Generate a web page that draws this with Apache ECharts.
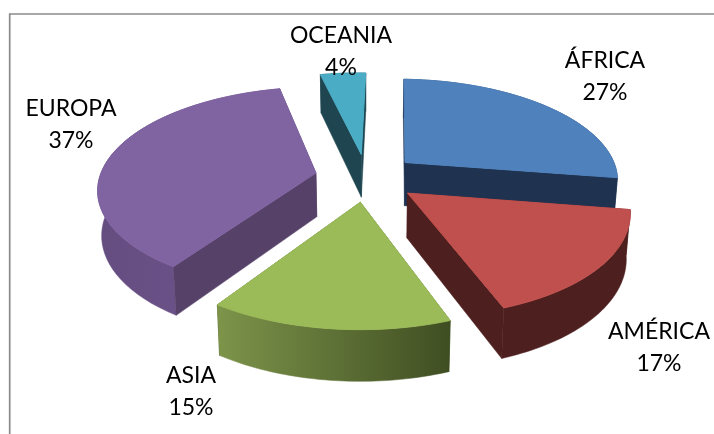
<!DOCTYPE html>
<html><head><meta charset="utf-8">
<style>html,body{margin:0;padding:0;background:#fff}#c{width:714px;height:434px}</style>
<script src="https://cdn.jsdelivr.net/npm/echarts@6/dist/echarts.min.js"></script>
</head><body><div id="c"></div>
<script>
const categories = ['ÁFRICA','AMÉRICA','ASIA','EUROPA','OCEANIA'];
const shares = [27,17,15,37,4];

// Look of each slice
const topColors  = ['#4f81bd','#c0504d','#9bbb59','#8064a2','#4bacc6'];
const wallColors = ['#1f3350','#4e1f1f','#3f4e22','#564168','#1f4650'];
const arcStops   = [['#1f3350','#1f3350'],['#4e1f1f','#4e1f1f'],['#7d944a','#3f4e22'],['#654d80','#6f5690'],['#1f4650','#1f4650']];
const paintOrder = [1,3,4,2,0]; // back to front rank of each slice
const labelAt = [[605,77],[659,348],[191,392],[71,125],[341,52]];

// Perspective view of the disc
const cx=366.5, cy=177.5, ax=215, by=100, skewX=4.5, skewY=3, persp=0.15, explode=0.24, depth=44, baseShrink=0.985;
function topPt(X,Y){const w=1+persp*Y;return [cx+(ax*X+skewX*Y)/w, cy+(skewY*X-by*Y)/w];}
function basePt(X,Y){const p=topPt(X,Y);return [cx+(p[0]-cx)*baseShrink, p[1]+depth/(1+0.12*Y)];}

const total=shares.reduce(function(a,b){return a+b;},0);
const startAngles=[];shares.reduce(function(a,v,i){startAngles[i]=a;return a+v/total*Math.PI*2;},0);

function renderItem(params,api){
  const i=params.dataIndex, v=api.value(0);
  const a0=startAngles[i], a1=a0+v/total*Math.PI*2, mid=(a0+a1)/2;
  const ox=explode*Math.sin(mid), oy=explode*Math.cos(mid);
  const n=48, arc=[];
  for(let k=0;k<=n;k++){const a=a0+(a1-a0)*k/n;arc.push([ox+Math.sin(a),oy+Math.cos(a)]);}
  const topArc=arc.map(function(p){return topPt(p[0],p[1]);});
  const baseArc=arc.map(function(p){return basePt(p[0],p[1]);});
  const A=topPt(ox,oy), B=basePt(ox,oy);
  const z=(paintOrder[i]+1)*10;
  const cmid=topPt(ox+0.5*Math.sin(mid),oy+0.5*Math.cos(mid));
  const side=function(P,Q,R){return (Q[0]-P[0])*(R[1]-P[1])-(Q[1]-P[1])*(R[0]-P[0]);};
  const walls=[[topArc[0],baseArc[0]],[topArc[n],baseArc[n]]];
  const kids=[];
  const wall=function(w,zz){return {type:'polygon',z2:zz,shape:{points:[A,w[0],w[1],B]},style:{fill:wallColors[i],stroke:wallColors[i],lineWidth:0.5}};};
  const front=function(w){return side(A,w[0],B)*side(A,w[0],cmid)<0;};
  walls.forEach(function(w){if(!front(w))kids.push(wall(w,z));});
  const grad=new echarts.graphic.LinearGradient(0,0,1,0,[{offset:0,color:arcStops[i][0]},{offset:1,color:arcStops[i][1]}]);
  kids.push({type:'polygon',z2:z+1,shape:{points:topArc.concat(baseArc.slice().reverse())},style:{fill:grad,stroke:grad,lineWidth:0.5}});
  walls.forEach(function(w){if(front(w))kids.push(wall(w,z+2));});
  kids.push({type:'polygon',z2:z+3,shape:{points:[A].concat(topArc)},style:{fill:topColors[i],stroke:topColors[i],lineWidth:1}});
  kids.push({type:'text',z2:100,style:{text:categories[i]+'\n'+v+'%',x:labelAt[i][0],y:labelAt[i][1],
    align:'center',verticalAlign:'middle',font:'23px Lato',lineHeight:32,fill:'#000'}});
  return {type:'group',children:kids};
}

const chart=echarts.init(document.getElementById('c'),null,{renderer:'canvas'});
chart.setOption({
  animation:false,
  backgroundColor:'#fff',
  graphic:[{type:'polyline',silent:true,shape:{points:[[9.7,440],[9.7,14],[720,14]]},style:{stroke:'#8a8a8a',lineWidth:1.7,fill:null}}],
  series:[{type:'custom',coordinateSystem:'none',silent:true,renderItem:renderItem,
    data:shares.map(function(v){return [v];})}]
});
</script></body></html>
